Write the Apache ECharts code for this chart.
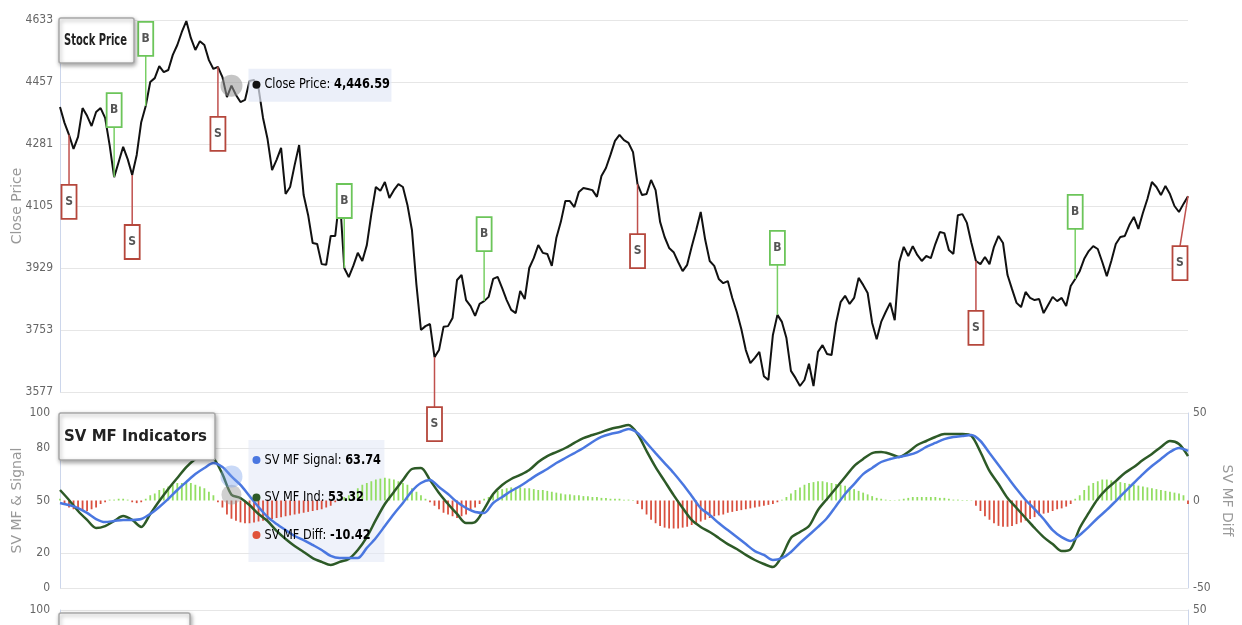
<!DOCTYPE html>
<html><head><meta charset="utf-8">
<script src="https://cdn.jsdelivr.net/npm/echarts@6/dist/echarts.min.js"></script>
<style>html,body{margin:0;padding:0;background:#fff}#c{width:1242px;height:625px}</style>
</head><body><div id="c"></div>
<script>
// ---- data (one value per trading session, index 0..250) ----
const price = [
4386,4341,4307,4267,4301,4383,4361,4332,4372,4383,
4355,4278,4187,4230,4273,4238,4193,4250,4343,4389,
4457,4468,4502,4485,4491,4534,4562,4599,4630,4582,
4548,4573,4562,4519,4494,4500,4471,4414,4446.59,4420,
4400,4406,4460,4463,4440,4355,4295,4207,4236,4270,
4139,4159,4221,4278,4136,4079,4000,3997,3940,3938,
4020,4020,4136,3929,3903,3935,3972,3949,3994,4082,
4159,4148,4173,4128,4150,4167,4159,4108,4037,3881,
3753,3764,3770,3676,3696,3762,3764,3787,3895,3909,
3838,3821,3793,3827,3835,3847,3898,3904,3872,3838,
3810,3801,3864,3841,3929,3957,3994,3972,3969,3935,
4014,4060,4119,4119,4102,4145,4156,4153,4150,4131,
4190,4213,4250,4290,4307,4292,4284,4258,4167,4136,
4139,4179,4150,4060,4017,3986,3974,3946,3920,3938,
3989,4037,4088,4009,3949,3935,3898,3886,3892,3844,
3804,3756,3696,3659,3674,3691,3622,3611,3739,3796,
3776,3730,3637,3617,3594,3611,3657,3594,3691,3710,
3685,3682,3773,3832,3850,3827,3844,3901,3881,3858,
3773,3727,3776,3804,3830,3781,3946,3989,3963,3991,
3966,3949,3963,3957,3997,4031,4028,3980,3969,4079,
4082,4057,4000,3949,3940,3960,3940,3989,4020,4000,
3909,3869,3830,3818,3861,3844,3838,3841,3801,3824,
3847,3835,3844,3821,3878,3898,3920,3955,3977,3991,
3983,3946,3906,3949,3997,4017,4020,4051,4074,4040,
4085,4125,4173,4159,4136,4162,4139,4105,4088,4111,
4133];

// buy / sell signals: session index and type
const signalIdx  = [2, 12, 16, 19, 35, 63, 83, 94, 128, 159, 203, 225, 250];
const signalType = ['S','B','S','B','S','B','S','B','S','B','S','B','S'];

// SV money-flow lines, read every 2nd session (index 0,2,4,...,250)
const mfInd = [
56.0,50.3,44.0,38.9,34.3,35.4,38.3,41.1,38.9,34.9,
42.3,49.7,56.6,62.9,69.1,73.7,77.1,74.3,65.1,53.32,
51.4,47.4,42.3,38.3,32.6,28.0,24.0,20.6,17.1,14.9,
13.1,14.9,16.6,21.7,29.1,38.9,48.0,54.9,61.7,68.0,
68.6,61.7,54.3,48.0,42.3,37.1,37.7,45.1,53.7,58.9,
62.3,64.6,67.4,72.0,75.4,77.7,80.0,82.9,85.7,87.4,
89.1,90.9,92.0,93.1,88.0,78.3,69.1,61.1,53.1,45.7,
38.9,34.9,32.0,28.6,25.1,22.3,18.9,16.0,13.7,12.0,
18.3,28.6,32.0,35.4,44.6,50.9,57.1,63.4,69.7,73.7,
77.1,77.7,76.6,74.9,77.7,81.7,84.0,86.3,88.0,88.0,
88.0,86.9,77.7,66.9,59.4,51.4,45.7,40.0,34.3,29.1,
25.1,21.1,22.3,34.3,42.9,50.9,56.6,61.1,65.7,69.1,
73.1,76.6,80.6,84.0,82.3,75.4];
const mfSignal = [
48.6,47.4,45.7,42.9,39.4,37.7,38.3,38.9,38.9,39.4,
42.3,46.3,50.9,56.0,60.6,65.1,68.6,71.4,69.1,63.74,
58.9,52.6,46.3,40.6,36.6,33.1,29.7,27.4,24.6,21.7,
18.3,17.1,17.1,17.1,22.9,28.6,35.4,42.3,48.6,55.4,
60.0,61.7,57.7,53.7,49.1,45.7,43.4,42.9,48.6,52.0,
55.4,58.3,61.7,65.1,68.0,71.4,74.3,77.1,80.0,83.4,
86.3,88.0,89.1,90.9,88.6,82.9,77.1,71.4,65.7,59.4,
52.6,45.7,41.7,37.1,33.1,29.1,25.1,21.1,18.9,16.0,
17.1,20.6,25.7,30.3,34.9,40.0,46.9,53.7,59.4,65.1,
68.6,72.0,73.7,74.9,76.0,77.7,80.6,82.9,85.1,86.3,
86.9,87.4,84.0,77.1,70.3,63.4,56.6,50.3,45.1,39.4,
33.1,29.1,26.9,30.3,34.9,40.0,44.6,49.7,54.9,60.0,
65.1,69.7,73.7,77.7,80.0,78.3];
const mfStep = 2;

// SV MF Diff histogram, one bar per session
const mfDiff = [
1,-2,-4,-5,-6,-6,-6,-5,-4,-2,
-1,0.5,0.5,1,1,0.5,-1,-1.5,-1,1,
3,4,6,7,8,9,10,10,10,10,
9,8,7,5,3,-1,-4,-8,-10.42,-11.5,
-12.5,-13,-13,-12.5,-12,-11.5,-11,-10.5,-10,-9.5,
-9,-8.5,-8,-7.5,-7,-6.5,-6,-5.5,-5,-4,
-3,-1,1,2,3,5,7,9,10,11,
12,12.5,13,12.5,12,11,10,9,7,5,
3,1,-1,-3,-5,-7,-8,-9,-10,-9,
-8,-6,-4,-2,1,2,4,5.5,6.5,7,
7.5,7.5,7.5,7,7,6.5,6,6,5.5,5,
4.5,4,3.5,3.5,3,3,2.5,2.5,2,2,
1.5,1.5,1,1,1,0.5,0.5,0.3,-2,-5,
-8,-11,-13,-14.5,-15.5,-16,-16,-16,-15.5,-15,
-14,-13,-12,-11,-10,-9,-8.5,-8,-7,-6.5,
-6,-5.5,-5,-4.5,-4,-3.5,-3,-2.5,-2,-1,
0.5,2,4,6,7.5,9,10,10.5,11,11,
10.5,10,9.5,9,8.5,7.5,6.5,5.5,4.5,3.5,
2.5,1.5,1,0.5,0.3,0.2,0.5,1,1.5,2,
2,2,2,2,2,1.5,1.5,1,0.5,0.5,
0.3,0.3,0.2,-3,-6,-9,-11,-13,-14.5,-15,
-15,-14.5,-13.5,-12.5,-11.5,-10.5,-9.5,-8.5,-7.5,-7,
-6,-5,-4.5,-3.5,-2,1,3,6,8.5,10,
11,12,12,11.5,11,10.5,10,9.5,9,8.5,
8,7.5,7,6.5,6,5.5,5,4.5,4,3,
-2];

// axis ticks
const priceMin = 3577, priceMax = 4633, priceStep = 176;
const mfTickLabels = [0, 20, 50, 80, 100];
const mfGridLines = [0, 20, 80, 100];
const diffMin = -50, diffMax = 50;
const hoverIdx = 38;

// ---- chart ----
const COND = "'DejaVu Sans Condensed','Liberation Sans Narrow',sans-serif";
const LAST = price.length - 1;
const chart = echarts.init(document.getElementById('c'), null, {renderer: 'canvas'});

const mctx = document.createElement('canvas').getContext('2d');
const textWidth = (t, font) => { mctx.font = font; return mctx.measureText(t).width; };

const lblStyle = {color: '#666', fontFamily: COND, fontSize: 12};
const nameStyle = {color: '#999', fontFamily: "'DejaVu Sans',sans-serif", fontSize: 14};
const gridLineColors = [];
for (let v = 0; v <= 100; v += 10) gridLineColors.push(mfGridLines.includes(v) ? '#e6e6e6' : 'rgba(0,0,0,0)');

const grids = [
  {left: 60, right: 54, top: 20, height: 372, outerBoundsMode: 'none'},
  {left: 60, right: 54, top: 413, height: 175, outerBoundsMode: 'none'},
  {left: 60, right: 54, top: 610, height: 175, outerBoundsMode: 'none'}
];

const option = {
  animation: false,
  backgroundColor: '#fff',
  grid: grids,
  xAxis: [0, 1, 2].map(g => ({type: 'value', gridIndex: g, min: 0, max: LAST, show: false})),
  yAxis: [
    {gridIndex: 0, type: 'value', min: priceMin, max: priceMax, interval: priceStep,
     axisLine: {show: true, lineStyle: {color: '#ccd6eb'}}, axisTick: {show: false},
     axisLabel: Object.assign({margin: 7, formatter: v => String(v)}, lblStyle),
     splitLine: {lineStyle: {color: '#e6e6e6', width: 1}},
     name: 'Close Price', nameLocation: 'middle', nameGap: 36, nameMoveOverlap: false, nameTextStyle: nameStyle},
    {gridIndex: 1, type: 'value', min: 0, max: 100, interval: 10,
     axisLine: {show: true, lineStyle: {color: '#ccd6eb'}}, axisTick: {show: false},
     axisLabel: Object.assign({margin: 10, formatter: v => mfTickLabels.includes(v) ? String(v) : ''}, lblStyle),
     splitLine: {lineStyle: {color: gridLineColors, width: 1}},
     name: 'SV MF & Signal', nameLocation: 'middle', nameGap: 36, nameMoveOverlap: false, nameTextStyle: nameStyle},
    {gridIndex: 1, type: 'value', position: 'right', min: diffMin, max: diffMax, interval: 50,
     axisLine: {show: true, lineStyle: {color: '#ccd6eb'}}, axisTick: {show: false},
     axisLabel: Object.assign({margin: 5, formatter: v => String(v)}, lblStyle), splitLine: {show: false},
     name: 'SV MF Diff', nameLocation: 'middle', nameRotate: -90, nameGap: 32, nameMoveOverlap: false, nameTextStyle: nameStyle},
    {gridIndex: 2, type: 'value', min: 0, max: 100, interval: 10,
     axisLine: {show: true, lineStyle: {color: '#ccd6eb'}}, axisTick: {show: false},
     axisLabel: Object.assign({margin: 10, formatter: v => mfTickLabels.includes(v) ? String(v) : ''}, lblStyle),
     splitLine: {lineStyle: {color: gridLineColors, width: 1}}},
    {gridIndex: 2, type: 'value', position: 'right', min: diffMin, max: diffMax, interval: 50,
     axisLine: {show: true, lineStyle: {color: '#ccd6eb'}}, axisTick: {show: false},
     axisLabel: Object.assign({margin: 5, formatter: v => String(v)}, lblStyle), splitLine: {show: false}}
  ],
  series: [
    {type: 'line', name: 'Close Price', xAxisIndex: 0, yAxisIndex: 0,
     data: price.map((v, i) => [i, v]), showSymbol: false, symbol: 'none',
     lineStyle: {color: '#111', width: 2}, itemStyle: {color: '#111'}, z: 3,
     markPoint: {silent: true, symbol: 'circle', symbolSize: 22, label: {show: false},
       itemStyle: {color: 'rgba(150,150,150,0.55)'},
       data: [{coord: [hoverIdx, price[hoverIdx]]}]}},
    {type: 'custom', name: 'Signals', xAxisIndex: 0, yAxisIndex: 0, z: 5, silent: true,
     data: signalIdx.map((idx, k) => [idx, price[idx], signalType[k] === 'B' ? 1 : 0]),
     renderItem: (params, api) => {
       const p = api.coord([api.value(0), api.value(1)]);
       const buy = api.value(2) === 1;
       const cs = params.coordSys;
       const bw = 15, bh = 34, len = 50;
       const bx = Math.min(Math.max(p[0], cs.x + bw / 2), cs.x + cs.width - bw / 2 - 0.5);
       const ey = p[1] + (buy ? -len : len);
       const by = buy ? ey - bh : ey;
       const stroke = buy ? '#6cc55a' : '#b5473c';
       return {type: 'group', children: [
         {type: 'line', shape: {x1: p[0], y1: p[1], x2: bx, y2: ey},
          style: {stroke: buy ? '#78cf64' : '#c0504d', lineWidth: 1.5}},
         {type: 'rect', shape: {x: bx - bw / 2, y: by, width: bw, height: bh},
          style: {fill: '#fff', stroke, lineWidth: 1.8}},
         {type: 'text', style: {text: buy ? 'B' : 'S', x: bx, y: by + bh / 2, align: 'center',
          verticalAlign: 'middle', fill: '#555', font: "bold 12px 'DejaVu Sans Condensed',sans-serif"}}
       ]};
     }},
    {type: 'bar', name: 'SV MF Diff', xAxisIndex: 1, yAxisIndex: 2, barWidth: 1.8,
     data: mfDiff.map((v, i) => [i, v]),
     itemStyle: {color: p => p.value[1] >= 0 ? '#93de63' : '#d9503f'}},
    {type: 'line', name: 'SV MF Ind', xAxisIndex: 1, yAxisIndex: 1, smooth: 0.3,
     data: mfInd.map((v, k) => [k * mfStep, v]), showSymbol: false, symbol: 'none',
     lineStyle: {color: '#2d5a27', width: 2.5}, itemStyle: {color: '#2d5a27'}, z: 3,
     markPoint: {silent: true, symbol: 'circle', symbolSize: 20, label: {show: false},
       itemStyle: {color: 'rgba(150,150,150,0.45)'},
       data: [{coord: [hoverIdx, mfInd[hoverIdx / mfStep]]}]}},
    {type: 'line', name: 'SV MF Signal', xAxisIndex: 1, yAxisIndex: 1, smooth: 0.3,
     data: mfSignal.map((v, k) => [k * mfStep, v]), showSymbol: false, symbol: 'none',
     lineStyle: {color: '#4a77e0', width: 2.5}, itemStyle: {color: '#4a77e0'}, z: 4,
     markPoint: {silent: true, symbol: 'circle', symbolSize: 22, label: {show: false},
       itemStyle: {color: 'rgba(120,160,235,0.4)'},
       data: [{coord: [hoverIdx, mfSignal[hoverIdx / mfStep]]}]}}
  ]
};
chart.setOption(option);

// ---- panel title boxes (condensed bold text fitted to the box) ----
const TFONT = "bold 16px 'DejaVu Sans Condensed',sans-serif";
const titleBox = (text, x, y, w, h, tw) => ({
  type: 'group', x, y, z: 120, children: [
    {type: 'rect', z: 120, shape: {x: 0, y: 0, width: w, height: h, r: 2},
     style: {fill: '#fff', stroke: '#a8a8a8', lineWidth: 1.5,
       shadowBlur: 4, shadowColor: 'rgba(0,0,0,0.35)', shadowOffsetX: 1, shadowOffsetY: 2}},
    {type: 'text', z: 121, x: 5, y: h / 2, scaleX: tw / textWidth(text, TFONT),
     style: {text, font: TFONT, fill: '#222', verticalAlign: 'middle'}}
  ]});

// ---- hover tooltips drawn next to the hovered session ----
const pp = chart.convertToPixel({xAxisIndex: 0, yAxisIndex: 0}, [hoverIdx, price[hoverIdx]]);
const gm = chart.convertToPixel({xAxisIndex: 1, yAxisIndex: 1}, [hoverIdx, 100]);
const fmt = (v) => v.toLocaleString('en-US', {minimumFractionDigits: 2, maximumFractionDigits: 2});
const rich = {n: {fontFamily: COND, fontSize: 14, color: '#333'}, b: {fontFamily: COND, fontSize: 14, color: '#222', fontWeight: 'bold'}};
const bx0 = pp[0] + 17;
const rows = [
  ['SV MF Signal: ', mfSignal[hoverIdx / mfStep], '#4a77e0'],
  ['SV MF Ind: ', mfInd[hoverIdx / mfStep], '#2d5a27'],
  ['SV MF Diff: ', mfDiff[hoverIdx], '#e0533a']
];
const g = [
  titleBox('Stock Price', 59, 18, 75, 45, 63),
  titleBox('SV MF Indicators', 59, 413, 156, 47, 143),
  titleBox('Stochastic Indicators', 59, 613, 131, 45, 119),
  {type: 'rect', z: 100, shape: {x: bx0, y: pp[1] - 17, width: 143, height: 33},
   style: {fill: 'rgba(226,232,246,0.7)'}},
  {type: 'circle', z: 101, shape: {cx: bx0 + 8, cy: pp[1] - 1, r: 4}, style: {fill: '#111'}},
  {type: 'text', z: 101, x: bx0 + 16, y: pp[1] - 1, scaleX: 0.9,
   style: {text: '{n|Close Price: }{b|' + fmt(price[hoverIdx]) + '}', rich, verticalAlign: 'middle'}},
  {type: 'rect', z: 1, shape: {x: bx0, y: gm[1] + 27, width: 136, height: 122},
   style: {fill: 'rgba(226,232,246,0.55)'}}
];
rows.forEach((r, k) => {
  const y = gm[1] + 47 + k * 37.5;
  g.push({type: 'circle', z: 101, shape: {cx: bx0 + 8, cy: y, r: 4}, style: {fill: r[2]}});
  g.push({type: 'text', z: 101, x: bx0 + 16, y, scaleX: 0.9,
    style: {text: '{n|' + r[0] + '}{b|' + fmt(r[1]) + '}', rich, verticalAlign: 'middle'}});
});
chart.setOption({graphic: g});
</script></body></html>
